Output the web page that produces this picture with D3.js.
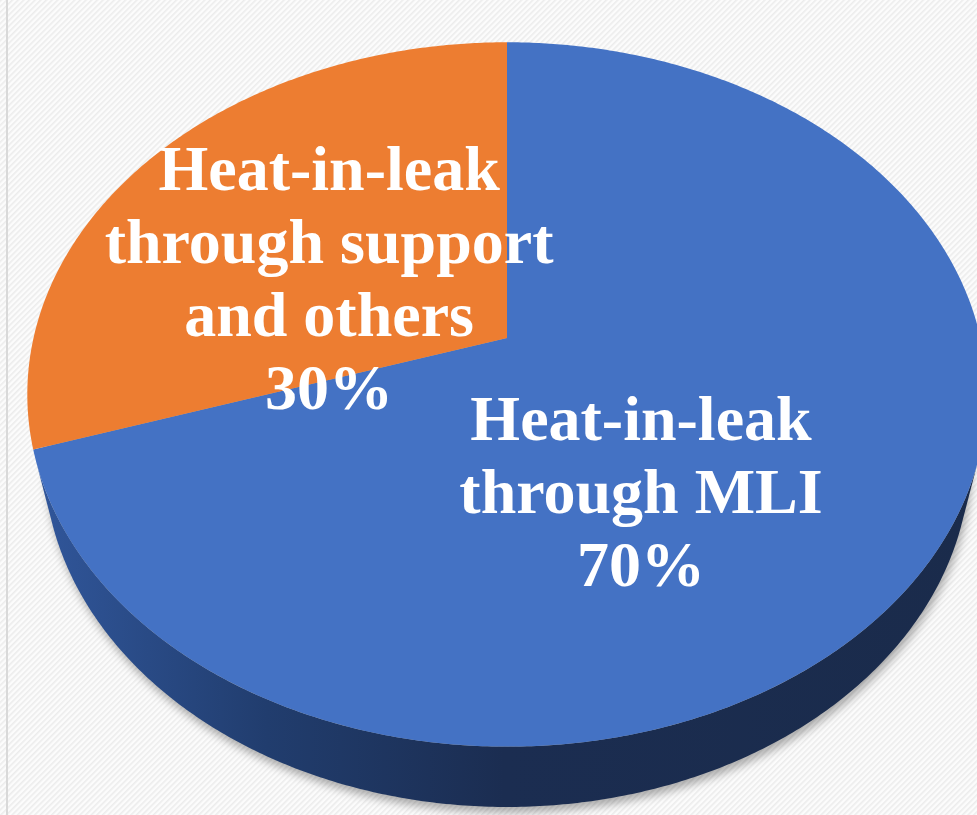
<!DOCTYPE html>
<html>
<head>
<meta charset="utf-8">
<script src="https://cdn.jsdelivr.net/npm/d3@7/dist/d3.min.js"></script>
<style>
  html, body { margin: 0; padding: 0; background: #ffffff; }
  svg { display: block; }
</style>
</head>
<body>
<svg id="chart" width="977" height="815"></svg>
<script>
// Heat-in-leak breakdown, drawn as a tilted 3D pie
const categories = ["Heat-in-leak through MLI", "Heat-in-leak through support and others"];
const values = [70, 30];
const labelLines = [["Heat-in-leak", "through MLI"], ["Heat-in-leak", "through support", "and others"]];
const colors = ["#4472c4", "#ed7d31"];

const W = 977, H = 815;
const svg = d3.select("#chart");

// --- perspective camera for a unit disc lying in the z = 0 plane
const cam = {
  cx: 507, cy: 338,     // screen position of the disc centre
  k: 2036,              // focal scale
  D: 4.30,              // camera distance (in radii)
  sinT: 0.7247,         // elevation
  h: 0.205              // thickness of the disc
};
cam.cosT = Math.sqrt(1 - cam.sinT * cam.sinT);

// a: angle clockwise from 12 o'clock, r: radius fraction, z: height
function project(a, r, z) {
  const X = r * Math.sin(a), Y = r * Math.cos(a);
  const depth = cam.D + Y * cam.cosT - z * cam.sinT;
  return [cam.cx + cam.k * X / depth,
          cam.cy - cam.k * (Y * cam.sinT + z * cam.cosT) / depth];
}
function arcPoints(a0, a1, z) {
  const n = Math.max(2, Math.ceil(Math.abs(a1 - a0) / (Math.PI / 360)));
  return d3.range(n + 1).map(i => project(a0 + (a1 - a0) * i / n, 1, z));
}

// the wall faces the camera where cos(a) < -1 / (D cos T)
const aVis = Math.acos(-1 / (cam.D * cam.cosT));
const visRange = [aVis, 2 * Math.PI - aVis];

const pie = d3.pie().sort(null).value(d => d)(values);
const line = d3.line();

const defs = svg.append("defs");

// faint diagonal background texture
const pat = defs.append("pattern")
  .attr("id", "hatch").attr("patternUnits", "userSpaceOnUse")
  .attr("width", 4).attr("height", 4)
  .attr("patternTransform", "rotate(45)");
pat.append("rect").attr("width", 4).attr("height", 4).attr("fill", "#fcfcfc");
pat.append("rect").attr("width", 1.6).attr("height", 4).attr("fill", "#ececec");

// side wall shading
const grad = defs.append("linearGradient")
  .attr("id", "sideGrad0").attr("gradientUnits", "userSpaceOnUse")
  .attr("x1", 30).attr("y1", 0).attr("x2", 977).attr("y2", 0);
[[0, "#31579c"], [0.25, "#213d6e"], [0.5, "#1b2d51"], [1, "#1a2b4b"]]
  .forEach(([o, c]) => grad.append("stop").attr("offset", o).attr("stop-color", c));

const orangeSide = defs.append("linearGradient")
  .attr("id", "sideGrad1").attr("gradientUnits", "userSpaceOnUse")
  .attr("x1", 30).attr("y1", 0).attr("x2", 977).attr("y2", 0);
[[0, "#b15d24"], [1, "#7a4018"]]
  .forEach(([o, c]) => orangeSide.append("stop").attr("offset", o).attr("stop-color", c));

const shadow = defs.append("filter").attr("id", "shadow")
  .attr("x", "-10%").attr("y", "-10%").attr("width", "120%").attr("height", "130%");
shadow.append("feGaussianBlur").attr("stdDeviation", 4);

svg.append("rect").attr("width", W).attr("height", H).attr("fill", "url(#hatch)");
svg.append("rect").attr("x", 6).attr("y", 0).attr("width", 2).attr("height", H).attr("fill", "#d9d9d9");

const root = svg.append("g");

// soft drop shadow of the whole disc
const full = arcPoints(0, 2 * Math.PI, -cam.h);
root.append("path")
  .attr("d", line(full) + "Z")
  .attr("transform", "translate(2,6)")
  .attr("fill", "#000").attr("fill-opacity", 0.3)
  .attr("filter", "url(#shadow)");

// side walls, front-facing part of each slice only
pie.forEach((d, i) => {
  const a0 = Math.max(d.startAngle, visRange[0]);
  const a1 = Math.min(d.endAngle, visRange[1]);
  if (a1 <= a0) return;
  const top = arcPoints(a0, a1, 0);
  const bot = arcPoints(a1, a0, -cam.h);
  root.append("path")
    .attr("class", "side")
    .attr("d", line(top.concat(bot)) + "Z")
    .attr("fill", `url(#sideGrad${i})`);
});

// top faces
root.selectAll("path.top").data(pie).join("path")
  .attr("class", "top")
  .attr("d", d => line([project(0, 0, 0)].concat(arcPoints(d.startAngle, d.endAngle, 0))) + "Z")
  .attr("fill", (d, i) => colors[i]);

// data labels
const total = d3.sum(values);
const pct = d3.format(".0%");
const fontSize = 64, lh = 73;
const nudges = [[-67, 47], [5, 35.5]];
pie.forEach((d, i) => {
  const mid = (d.startAngle + d.endAngle) / 2;
  const [ax, ay] = project(mid, 0.5, 0);
  const lines = labelLines[i].concat([pct(values[i] / total)]);
  const x = ax + nudges[i][0], y = ay + nudges[i][1];
  const first = y - (lines.length - 1) / 2 * lh + 0.35 * fontSize;
  const t = root.append("text")
    .attr("text-anchor", "middle")
    .attr("font-family", "'Liberation Serif', 'Times New Roman', serif")
    .attr("font-weight", "bold")
    .attr("font-size", fontSize)
    .attr("fill", "#ffffff");
  lines.forEach((s, j) => t.append("tspan").attr("x", x).attr("y", first + j * lh).text(s));
});
</script>
</body>
</html>
